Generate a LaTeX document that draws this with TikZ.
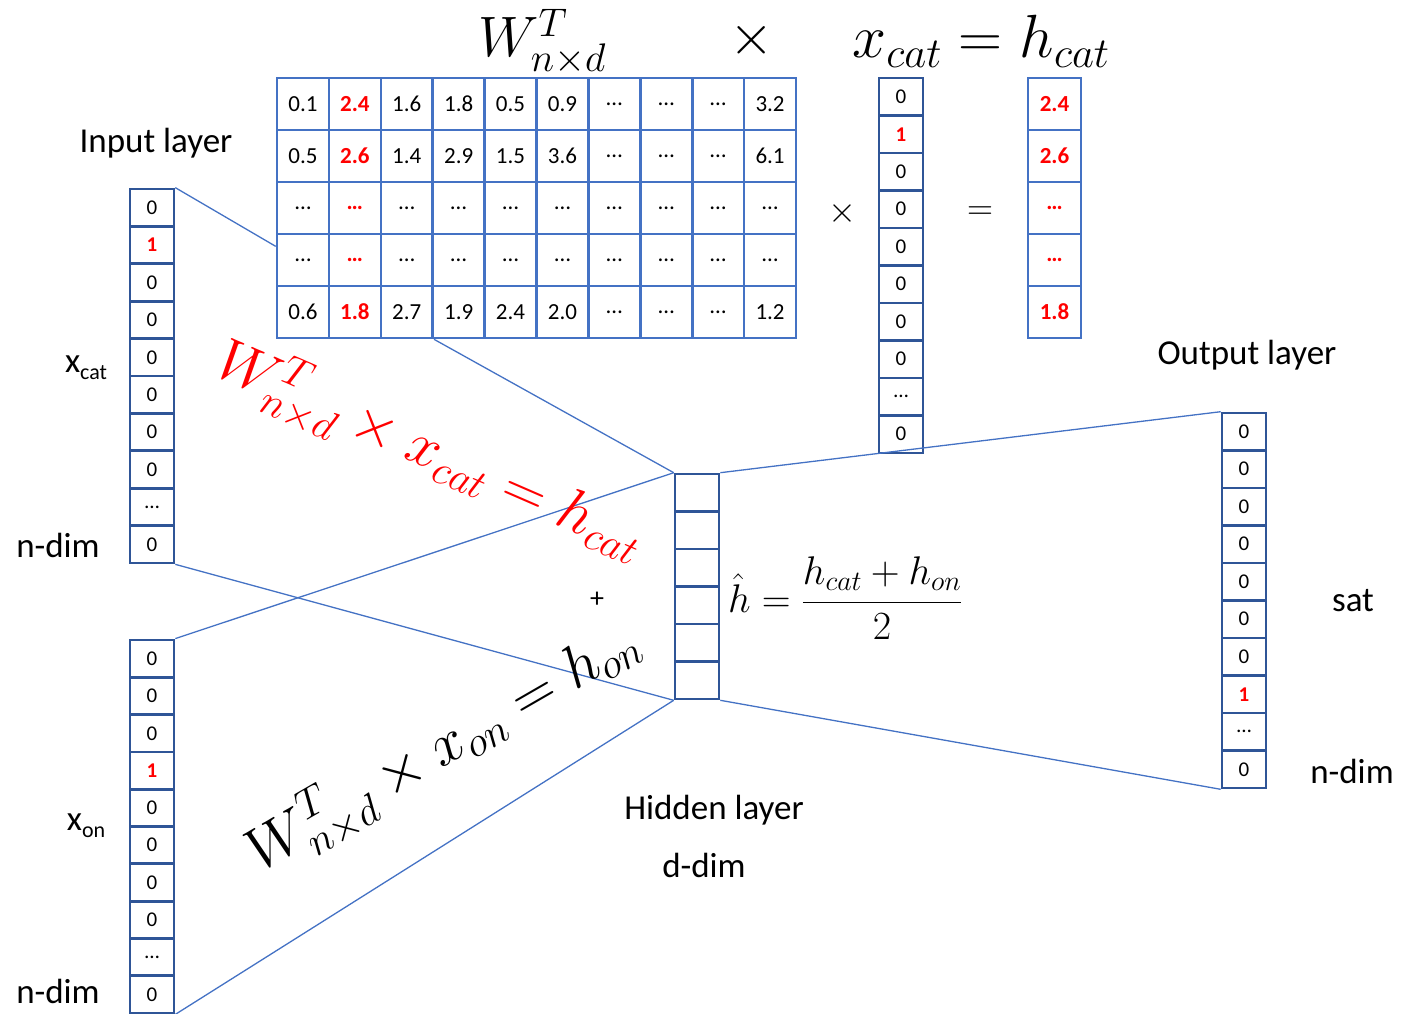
\RequirePackage{fix-cm}
\documentclass[tikz,border=0pt]{standalone}
\usepackage{fontspec}
\setmainfont{Carlito}
\usetikzlibrary{calc}
\definecolor{dkblue}{HTML}{2F5597}
\definecolor{ltblue}{HTML}{4472C4}
\definecolor{rd}{HTML}{FF0000}
\newcommand{\el}{…}
\newcommand{\rb}[1]{\textcolor{rd}{\bfseries #1}}
\begin{document}
\begin{tikzpicture}[x=1pt,y=-1pt,
  vcell/.style={draw=dkblue, line width=2.6pt, minimum width=44pt, minimum height=37.5pt, inner sep=0pt, font=\fontsize{21}{25}\selectfont},
  mcell/.style={draw=ltblue, line width=2.6pt, minimum width=51.9pt, minimum height=52pt, inner sep=0pt, font=\fontsize{23}{27}\selectfont},
  hcell/.style={mcell, minimum width=53pt},
  conn/.style={ltblue, line width=1.3pt},
  lbl/.style={font=\fontsize{35}{41}\selectfont, inner sep=0pt},
  bigmath/.style={font=\fontsize{57}{65}\selectfont, inner sep=0pt}
]
\useasboundingbox (0,0) rectangle (1402,1014);

% matrix W^T
\foreach \row [count=\r] in {{0.1,\rb{2.4},1.6,1.8,0.5,0.9,\el,\el,\el,3.2},{0.5,\rb{2.6},1.4,2.9,1.5,3.6,\el,\el,\el,6.1},{\el,\rb{\el},\el,\el,\el,\el,\el,\el,\el,\el},{\el,\rb{\el},\el,\el,\el,\el,\el,\el,\el,\el},{0.6,\rb{1.8},2.7,1.9,2.4,2.0,\el,\el,\el,1.2}}
  \foreach \v [count=\c] in \row
    \node[mcell] (m-\r-\c) at ({277+51.9*(\c-0.5)},{78+52*(\r-0.5)}) {\v};

% top x_cat column
\foreach \v [count=\i] in {0,\rb{1},0,0,0,0,0,0,\el,0}
  \node[vcell] (t\i) at (901,{78+37.5*(\i-0.5)}) {\v};
% h_cat column
\foreach \v [count=\i] in {\rb{2.4},\rb{2.6},\rb{\el},\rb{\el},\rb{1.8}}
  \node[hcell] (c\i) at (1054.5,{78+52*(\i-0.5)}) {\v};

% input x_cat
\foreach \v [count=\i] in {0,\rb{1},0,0,0,0,0,0,\el,0}
  \node[vcell] (a\i) at (152,{189+37.4*(\i-0.5)}) {\v};
% input x_on
\foreach \v [count=\i] in {0,0,0,\rb{1},0,0,0,0,\el,0}
  \node[vcell] (b\i) at (152,{640+37.3*(\i-0.5)}) {\v};
% hidden
\foreach \i in {1,...,6}
  \node[vcell] (h\i) at (697,{474+37.5*(\i-0.5)}) {};
% output
\foreach \v [count=\i] in {0,0,0,0,0,0,0,\rb{1},\el,0}
  \node[vcell] (o\i) at (1244,{413+37.5*(\i-0.5)}) {\v};

% connectors
\coordinate (mw) at ($(m-4-1.north west)!0.25!(m-4-1.south west)$);
\draw[conn] (a1.north east) -- (mw);
\draw[conn] (m-5-3.south east) -- (h1.north west);
\draw[conn] (h1.north west) -- (b1.north east);
\draw[conn] (a10.south east) -- (h6.south west);
\draw[conn] (b10.south east) -- (h6.south west);
\draw[conn] (h1.north east) -- (o1.north west);
\draw[conn] (h6.south east) -- (o10.south west);

% titles
\node[bigmath, anchor=base] (tW) at (542,57) {$W^T_{n\times d}$};
\node[bigmath] (tx) at (752,40) {$\times$};
\node[bigmath, font=\fontsize{61}{69}\selectfont, anchor=base] (txh) at (981,58) {$x_{cat}=h_{cat}$};
\node[font=\fontsize{36}{40}\selectfont, inner sep=0pt] (mul) at (842,213) {$\times$};
\node[font=\fontsize{36}{40}\selectfont, inner sep=0pt] (eq) at (980,213) {$=$};

% rotated formulas
\node[bigmath, font=\fontsize{60}{68}\selectfont, text=rd, rotate=-23.5] (redf) at (430,452) {$W^T_{n\times d}\times x_{cat}=h_{cat}$};
\node[bigmath, font=\fontsize{60}{68}\selectfont, rotate=30] (blkf) at (444,748) {$W^T_{n\times d}\times x_{on}=h_{on}$};
\node[font=\fontsize{28}{32}\selectfont, inner sep=0pt] (plus) at (597,600) {+};
\node[font=\fontsize{40}{46}\selectfont, anchor=base west, inner sep=0pt] (hhat) at (728,612) {$\hat{h}=\displaystyle\frac{h_{cat}+h_{on}}{2}$};

% labels
\node[lbl] (inl) at (156,143) {Input layer};
\node[lbl] (xcl) at (86,368) {x\raisebox{-7pt}{\fontsize{22}{26}\selectfont cat}};
\node[lbl] (nd1) at (58,545) {n-dim};
\node[lbl] (xol) at (86,826) {x\raisebox{-7pt}{\fontsize{22}{26}\selectfont on}};
\node[lbl] (nd2) at (58,991) {n-dim};
\node[lbl] (outl) at (1247,355) {Output layer};
\node[lbl] (sat) at (1353,601) {sat};
\node[lbl] (nd3) at (1352,771) {n-dim};
\node[lbl] (hidl) at (714,810) {Hidden layer};
\node[lbl] (ddim) at (704,865) {d-dim};
\end{tikzpicture}
\end{document}
